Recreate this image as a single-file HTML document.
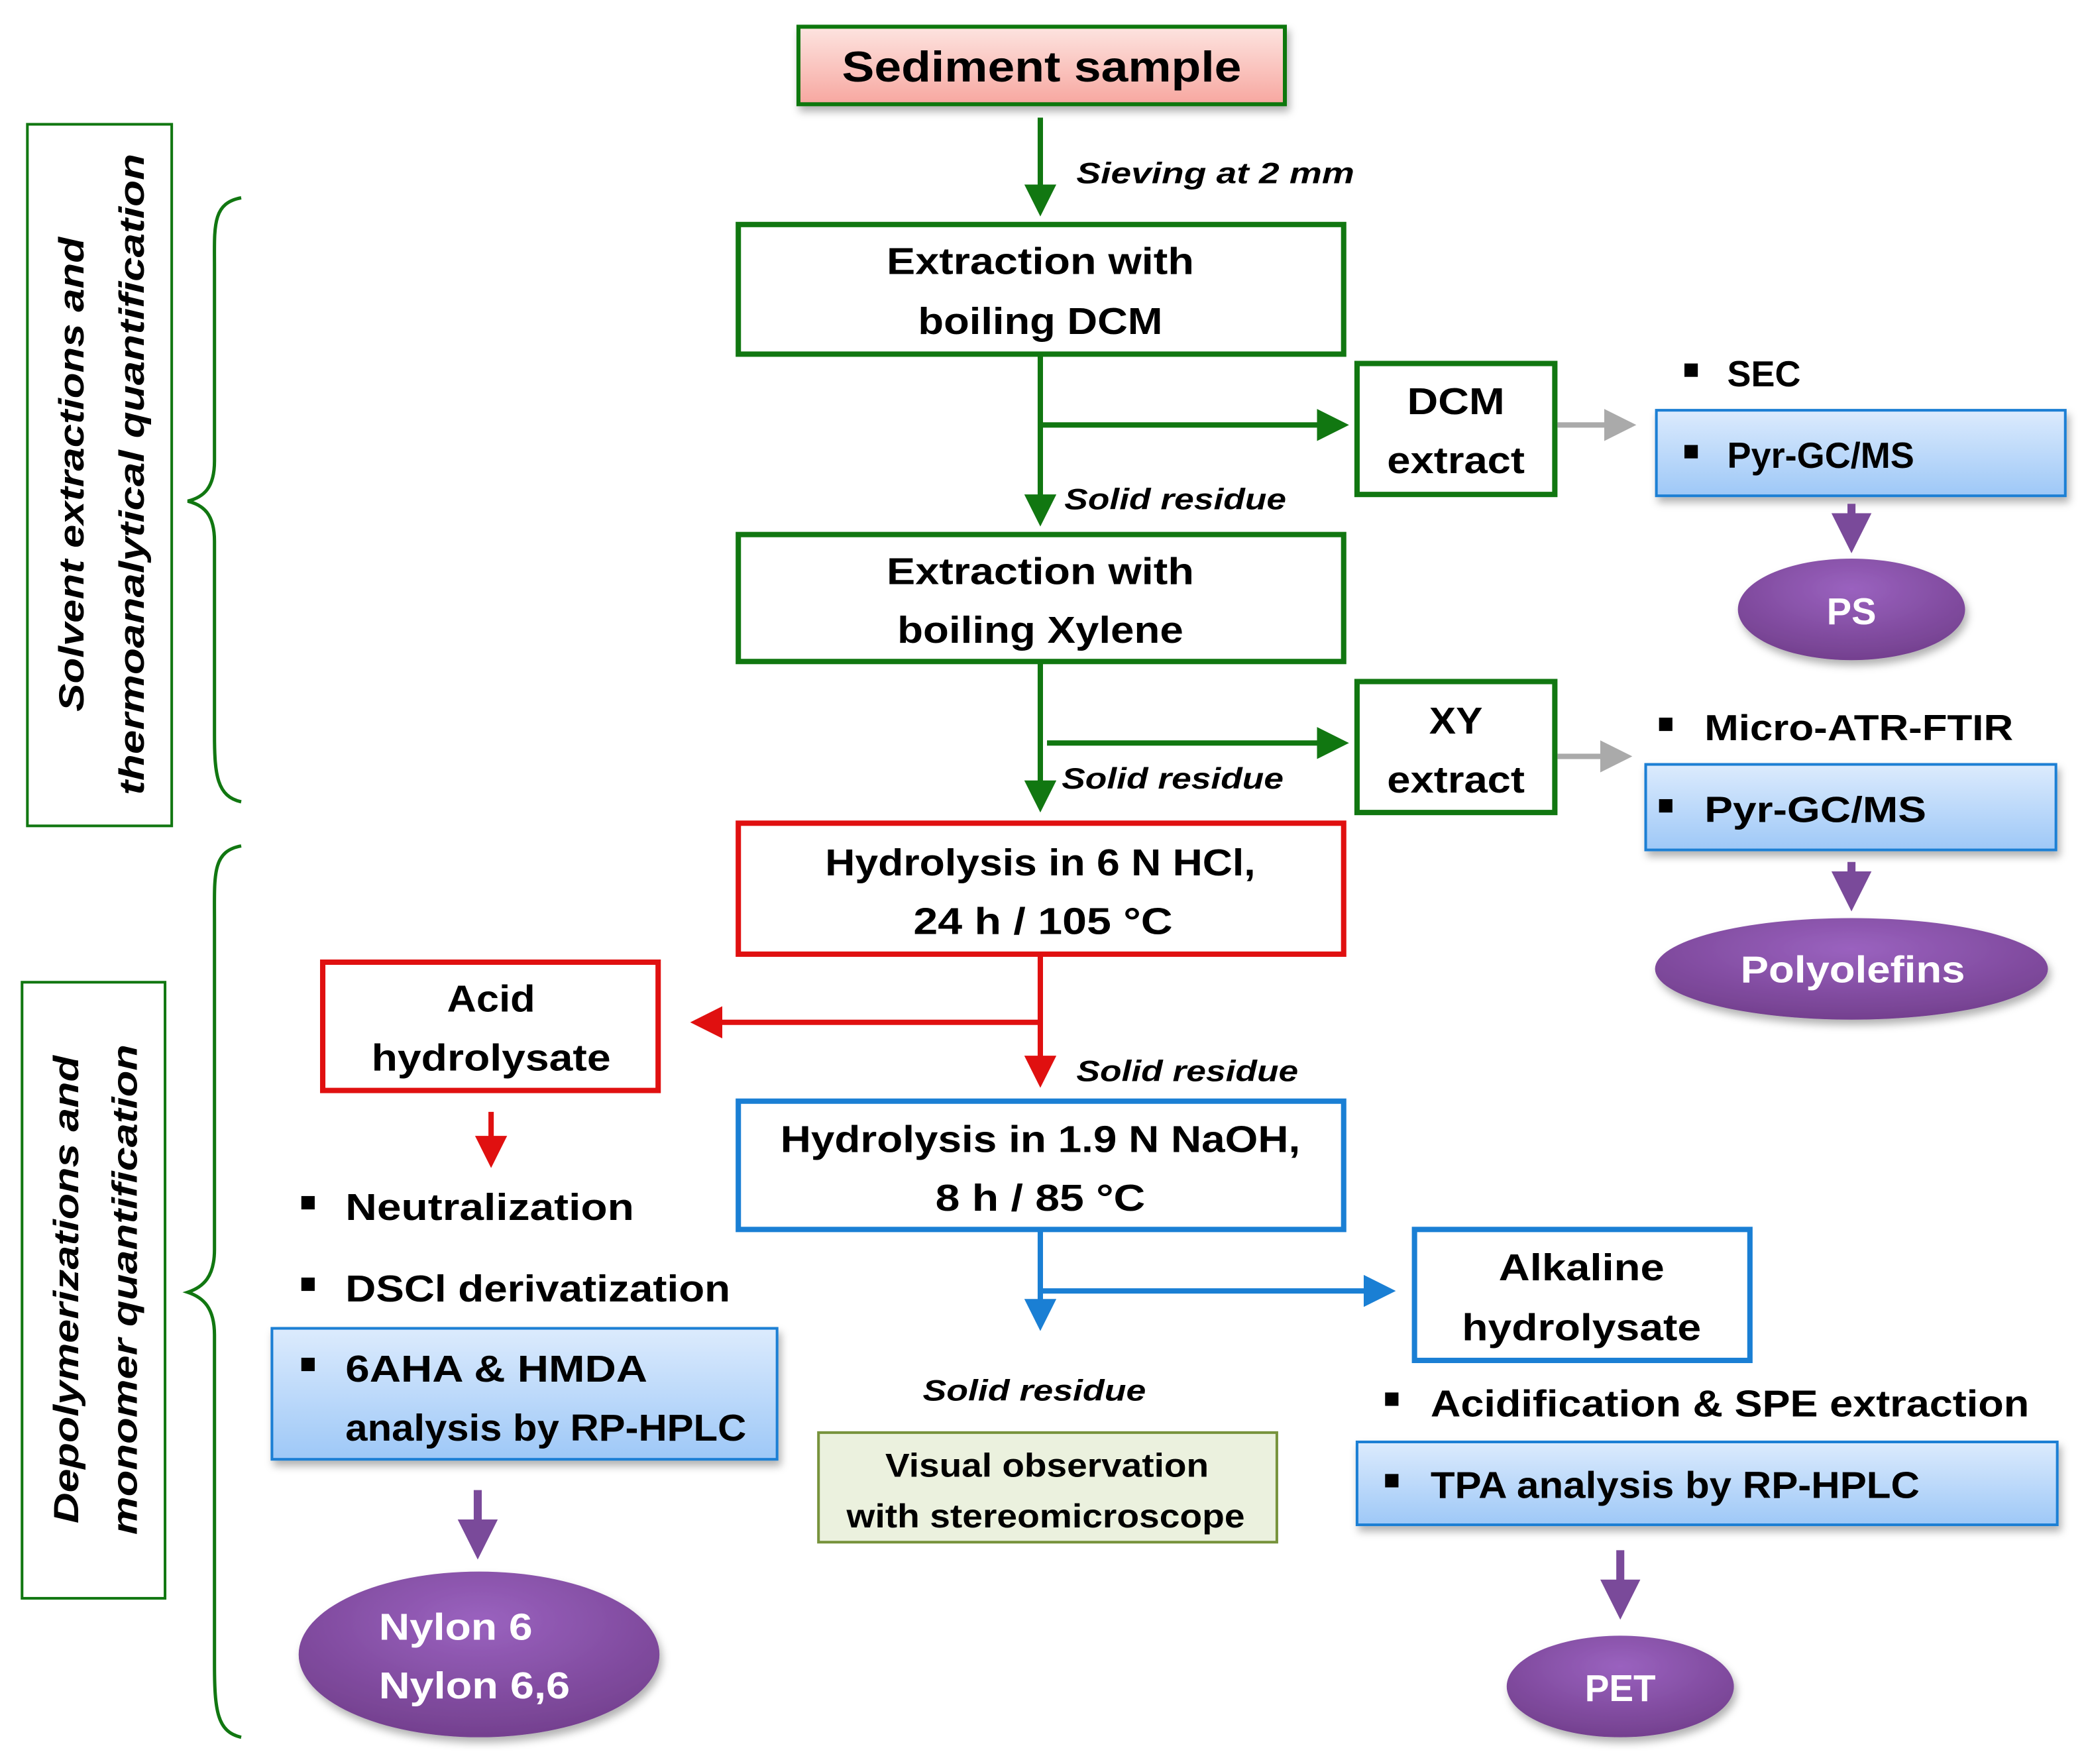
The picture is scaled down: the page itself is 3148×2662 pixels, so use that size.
<!DOCTYPE html>
<html><head><meta charset="utf-8"><style>
html,body{margin:0;padding:0;background:#fff;}
svg{display:block;}
text{font-family:"Liberation Sans",sans-serif;font-weight:bold;fill:#000;}
.i{font-style:italic;}
.w{fill:#fff;}
</style></head><body>
<svg width="3148" height="2662" viewBox="0 0 1560 1320" xmlns="http://www.w3.org/2000/svg">
<defs>
<linearGradient id="pink" x1="0" y1="0" x2="0" y2="1"><stop offset="0" stop-color="#fde4e0"/><stop offset="1" stop-color="#f7a7a0"/></linearGradient>
<linearGradient id="blue" x1="0" y1="0" x2="0" y2="1"><stop offset="0" stop-color="#dcebfd"/><stop offset="1" stop-color="#9ec8f7"/></linearGradient>
<radialGradient id="purp" cx="0.5" cy="0.3" r="0.7"><stop offset="0" stop-color="#9a62bf"/><stop offset="1" stop-color="#74408f"/></radialGradient>
<filter id="sh" x="-10%" y="-10%" width="130%" height="140%"><feDropShadow dx="2" dy="4" stdDeviation="3" flood-color="#000" flood-opacity="0.3"/></filter>
<marker id="ag" markerWidth="6" markerHeight="6" refX="5" refY="3" orient="auto" markerUnits="strokeWidth"><path d="M0,0 L6,3 L0,6 z" fill="#117711"/></marker>
<marker id="ar" markerWidth="6" markerHeight="6" refX="5" refY="3" orient="auto" markerUnits="strokeWidth"><path d="M0,0 L6,3 L0,6 z" fill="#e01010"/></marker>
<marker id="ab" markerWidth="6" markerHeight="6" refX="5" refY="3" orient="auto" markerUnits="strokeWidth"><path d="M0,0 L6,3 L0,6 z" fill="#1a7fd4"/></marker>
<marker id="agr" markerWidth="6" markerHeight="6" refX="5" refY="3" orient="auto" markerUnits="strokeWidth"><path d="M0,0 L6,3 L0,6 z" fill="#aaa"/></marker>
<marker id="ap" markerWidth="5" markerHeight="5" refX="3" refY="2.5" orient="auto" markerUnits="strokeWidth"><path d="M0,0 L5,2.5 L0,5 z" fill="#7a4a9a"/></marker>
</defs>

<rect x="20" y="93" width="108" height="525" fill="#fff" stroke="#117711" stroke-width="2"/>
<text class="i" font-size="26" transform="translate(62,355) rotate(-90)" text-anchor="middle" textLength="355" lengthAdjust="spacingAndGlyphs">Solvent extractions and</text>
<text class="i" font-size="26" transform="translate(107,355) rotate(-90)" text-anchor="middle" textLength="480" lengthAdjust="spacingAndGlyphs">thermoanalytical quantification</text>
<rect x="16" y="735" width="107" height="461" fill="#fff" stroke="#117711" stroke-width="2"/>
<text class="i" font-size="26" transform="translate(58,965) rotate(-90)" text-anchor="middle" textLength="350" lengthAdjust="spacingAndGlyphs">Depolymerizations and</text>
<text class="i" font-size="26" transform="translate(102,965) rotate(-90)" text-anchor="middle" textLength="367" lengthAdjust="spacingAndGlyphs">monomer quantification</text>

<path d="M180,148 C158,152 160,170 160,200 L160,345 C160,365 152,372 140,375 C152,378 160,385 160,405 L160,550 C160,580 162,596 180,600" fill="none" stroke="#117711" stroke-width="2.5"/>
<path d="M180,633 C158,637 160,655 160,690 L160,935 C160,955 152,963 140,967 C152,971 160,979 160,999 L160,1245 C160,1280 162,1296 180,1300" fill="none" stroke="#117711" stroke-width="2.5"/>

<rect x="597" y="20" width="364" height="58" fill="url(#pink)" stroke="#117711" stroke-width="3" filter="url(#sh)"/>
<text x="779" y="61" font-size="32" text-anchor="middle" textLength="299" lengthAdjust="spacingAndGlyphs">Sediment sample</text>
<line x1="778" y1="88" x2="778" y2="158" stroke="#117711" stroke-width="4" marker-end="url(#ag)"/>
<text class="i" x="805" y="137" font-size="22" textLength="208" lengthAdjust="spacingAndGlyphs">Sieving at 2 mm</text>

<rect x="552" y="168" width="453" height="97" fill="#fff" stroke="#117711" stroke-width="4"/>
<text x="778" y="205" font-size="28" text-anchor="middle" textLength="230" lengthAdjust="spacingAndGlyphs">Extraction with</text>
<text x="778" y="250" font-size="28" text-anchor="middle" textLength="183" lengthAdjust="spacingAndGlyphs">boiling DCM</text>
<line x1="778" y1="265" x2="778" y2="390" stroke="#117711" stroke-width="4" marker-end="url(#ag)"/>
<line x1="778" y1="318" x2="1005" y2="318" stroke="#117711" stroke-width="4" marker-end="url(#ag)"/>
<rect x="1015" y="272" width="148" height="98" fill="#fff" stroke="#117711" stroke-width="4"/>
<text x="1089" y="310" font-size="28" text-anchor="middle" textLength="73" lengthAdjust="spacingAndGlyphs">DCM</text>
<text x="1089" y="354" font-size="28" text-anchor="middle" textLength="103" lengthAdjust="spacingAndGlyphs">extract</text>
<line x1="1165" y1="318" x2="1220" y2="318" stroke="#aaa" stroke-width="4" marker-end="url(#agr)"/>
<text class="i" x="796" y="381" font-size="22" textLength="166" lengthAdjust="spacingAndGlyphs">Solid residue</text>

<rect x="1260" y="272" width="10" height="10" fill="#000"/>
<text x="1292" y="289" font-size="27" textLength="55" lengthAdjust="spacingAndGlyphs">SEC</text>
<rect x="1239" y="307" width="306" height="64" fill="url(#blue)" stroke="#1a7fd4" stroke-width="2" filter="url(#sh)"/>
<rect x="1260" y="333" width="10" height="10" fill="#000"/>
<text x="1292" y="350" font-size="27" textLength="140" lengthAdjust="spacingAndGlyphs">Pyr-GC/MS</text>
<line x1="1385" y1="377" x2="1385" y2="402" stroke="#7a4a9a" stroke-width="6" marker-end="url(#ap)"/>
<ellipse cx="1385" cy="456" rx="85" ry="38" fill="url(#purp)" filter="url(#sh)"/>
<text class="w" x="1385" y="467" font-size="28" text-anchor="middle" textLength="37" lengthAdjust="spacingAndGlyphs">PS</text>

<rect x="552" y="400" width="453" height="95" fill="#fff" stroke="#117711" stroke-width="4"/>
<text x="778" y="437" font-size="28" text-anchor="middle" textLength="230" lengthAdjust="spacingAndGlyphs">Extraction with</text>
<text x="778" y="481" font-size="28" text-anchor="middle" textLength="214" lengthAdjust="spacingAndGlyphs">boiling Xylene</text>
<line x1="778" y1="495" x2="778" y2="604" stroke="#117711" stroke-width="4" marker-end="url(#ag)"/>
<line x1="783" y1="556" x2="1005" y2="556" stroke="#117711" stroke-width="4" marker-end="url(#ag)"/>
<text class="i" x="794" y="590" font-size="22" textLength="166" lengthAdjust="spacingAndGlyphs">Solid residue</text>
<rect x="1015" y="510" width="148" height="98" fill="#fff" stroke="#117711" stroke-width="4"/>
<text x="1089" y="549" font-size="28" text-anchor="middle" textLength="40" lengthAdjust="spacingAndGlyphs">XY</text>
<text x="1089" y="593" font-size="28" text-anchor="middle" textLength="103" lengthAdjust="spacingAndGlyphs">extract</text>
<line x1="1165" y1="566" x2="1217" y2="566" stroke="#aaa" stroke-width="4" marker-end="url(#agr)"/>
<rect x="1241" y="537" width="10" height="10" fill="#000"/>
<text x="1275" y="554" font-size="27" textLength="231" lengthAdjust="spacingAndGlyphs">Micro-ATR-FTIR</text>
<rect x="1231" y="572" width="307" height="64" fill="url(#blue)" stroke="#1a7fd4" stroke-width="2" filter="url(#sh)"/>
<rect x="1241" y="598" width="10" height="10" fill="#000"/>
<text x="1275" y="615" font-size="27" textLength="166" lengthAdjust="spacingAndGlyphs">Pyr-GC/MS</text>
<line x1="1385" y1="645" x2="1385" y2="670" stroke="#7a4a9a" stroke-width="6" marker-end="url(#ap)"/>
<ellipse cx="1385" cy="725" rx="147" ry="38" fill="url(#purp)" filter="url(#sh)"/>
<text class="w" x="1386" y="735" font-size="28" text-anchor="middle" textLength="168" lengthAdjust="spacingAndGlyphs">Polyolefins</text>

<rect x="552" y="616" width="453" height="98" fill="#fff" stroke="#e01010" stroke-width="4"/>
<text x="778" y="655" font-size="28" text-anchor="middle" textLength="322" lengthAdjust="spacingAndGlyphs">Hydrolysis in 6 N HCl,</text>
<text x="780" y="699" font-size="28" text-anchor="middle" textLength="194" lengthAdjust="spacingAndGlyphs">24 h / 105 °C</text>
<line x1="778" y1="714" x2="778" y2="810" stroke="#e01010" stroke-width="4" marker-end="url(#ar)"/>
<line x1="778" y1="765" x2="520" y2="765" stroke="#e01010" stroke-width="4" marker-end="url(#ar)"/>
<text class="i" x="805" y="809" font-size="22" textLength="166" lengthAdjust="spacingAndGlyphs">Solid residue</text>
<rect x="241" y="720" width="251" height="96" fill="#fff" stroke="#e01010" stroke-width="4"/>
<text x="367" y="757" font-size="28" text-anchor="middle" textLength="66" lengthAdjust="spacingAndGlyphs">Acid</text>
<text x="367" y="801" font-size="28" text-anchor="middle" textLength="179" lengthAdjust="spacingAndGlyphs">hydrolysate</text>
<line x1="367" y1="832" x2="367" y2="870" stroke="#e01010" stroke-width="4" marker-end="url(#ar)"/>
<rect x="225" y="895" width="10" height="10" fill="#000"/>
<text x="258" y="913" font-size="28" textLength="216" lengthAdjust="spacingAndGlyphs">Neutralization</text>
<rect x="225" y="956" width="10" height="10" fill="#000"/>
<text x="258" y="974" font-size="28" textLength="288" lengthAdjust="spacingAndGlyphs">DSCl derivatization</text>
<rect x="203" y="994" width="378" height="98" fill="url(#blue)" stroke="#1a7fd4" stroke-width="2" filter="url(#sh)"/>
<rect x="225" y="1016" width="10" height="10" fill="#000"/>
<text x="258" y="1034" font-size="28" textLength="226" lengthAdjust="spacingAndGlyphs">6AHA &amp; HMDA</text>
<text x="258" y="1078" font-size="28" textLength="300" lengthAdjust="spacingAndGlyphs">analysis by RP-HPLC</text>
<line x1="357" y1="1115" x2="357" y2="1155" stroke="#7a4a9a" stroke-width="6" marker-end="url(#ap)"/>
<ellipse cx="358" cy="1238" rx="135" ry="62" fill="url(#purp)" filter="url(#sh)"/>
<text class="w" x="283" y="1227" font-size="28" textLength="115" lengthAdjust="spacingAndGlyphs">Nylon 6</text>
<text class="w" x="283" y="1271" font-size="28" textLength="143" lengthAdjust="spacingAndGlyphs">Nylon 6,6</text>

<rect x="552" y="824" width="453" height="96" fill="#fff" stroke="#1a7fd4" stroke-width="4"/>
<text x="778" y="862" font-size="28" text-anchor="middle" textLength="389" lengthAdjust="spacingAndGlyphs">Hydrolysis in 1.9 N NaOH,</text>
<text x="778" y="906" font-size="28" text-anchor="middle" textLength="157" lengthAdjust="spacingAndGlyphs">8 h / 85 °C</text>
<line x1="778" y1="920" x2="778" y2="992" stroke="#1a7fd4" stroke-width="4" marker-end="url(#ab)"/>
<line x1="778" y1="966" x2="1040" y2="966" stroke="#1a7fd4" stroke-width="4" marker-end="url(#ab)"/>
<rect x="1058" y="920" width="251" height="98" fill="#fff" stroke="#1a7fd4" stroke-width="4"/>
<text x="1183" y="958" font-size="28" text-anchor="middle" textLength="124" lengthAdjust="spacingAndGlyphs">Alkaline</text>
<text x="1183" y="1003" font-size="28" text-anchor="middle" textLength="179" lengthAdjust="spacingAndGlyphs">hydrolysate</text>
<text class="i" x="690" y="1048" font-size="22" textLength="167" lengthAdjust="spacingAndGlyphs">Solid residue</text>
<rect x="612" y="1072" width="343" height="82" fill="#ebf1de" stroke="#77933c" stroke-width="2"/>
<text x="783" y="1105" font-size="25" text-anchor="middle" textLength="242" lengthAdjust="spacingAndGlyphs">Visual observation</text>
<text x="782" y="1143" font-size="25" text-anchor="middle" textLength="298" lengthAdjust="spacingAndGlyphs">with stereomicroscope</text>
<rect x="1036" y="1042" width="10" height="10" fill="#000"/>
<text x="1070" y="1060" font-size="28" textLength="448" lengthAdjust="spacingAndGlyphs">Acidification &amp; SPE extraction</text>
<rect x="1015" y="1079" width="524" height="62" fill="url(#blue)" stroke="#1a7fd4" stroke-width="2" filter="url(#sh)"/>
<rect x="1036" y="1103" width="10" height="10" fill="#000"/>
<text x="1070" y="1121" font-size="28" textLength="366" lengthAdjust="spacingAndGlyphs">TPA analysis by RP-HPLC</text>
<line x1="1212" y1="1160" x2="1212" y2="1200" stroke="#7a4a9a" stroke-width="6" marker-end="url(#ap)"/>
<ellipse cx="1212" cy="1262" rx="85" ry="38" fill="url(#purp)" filter="url(#sh)"/>
<text class="w" x="1212" y="1273" font-size="28" text-anchor="middle" textLength="53" lengthAdjust="spacingAndGlyphs">PET</text>
</svg>
</body></html>
